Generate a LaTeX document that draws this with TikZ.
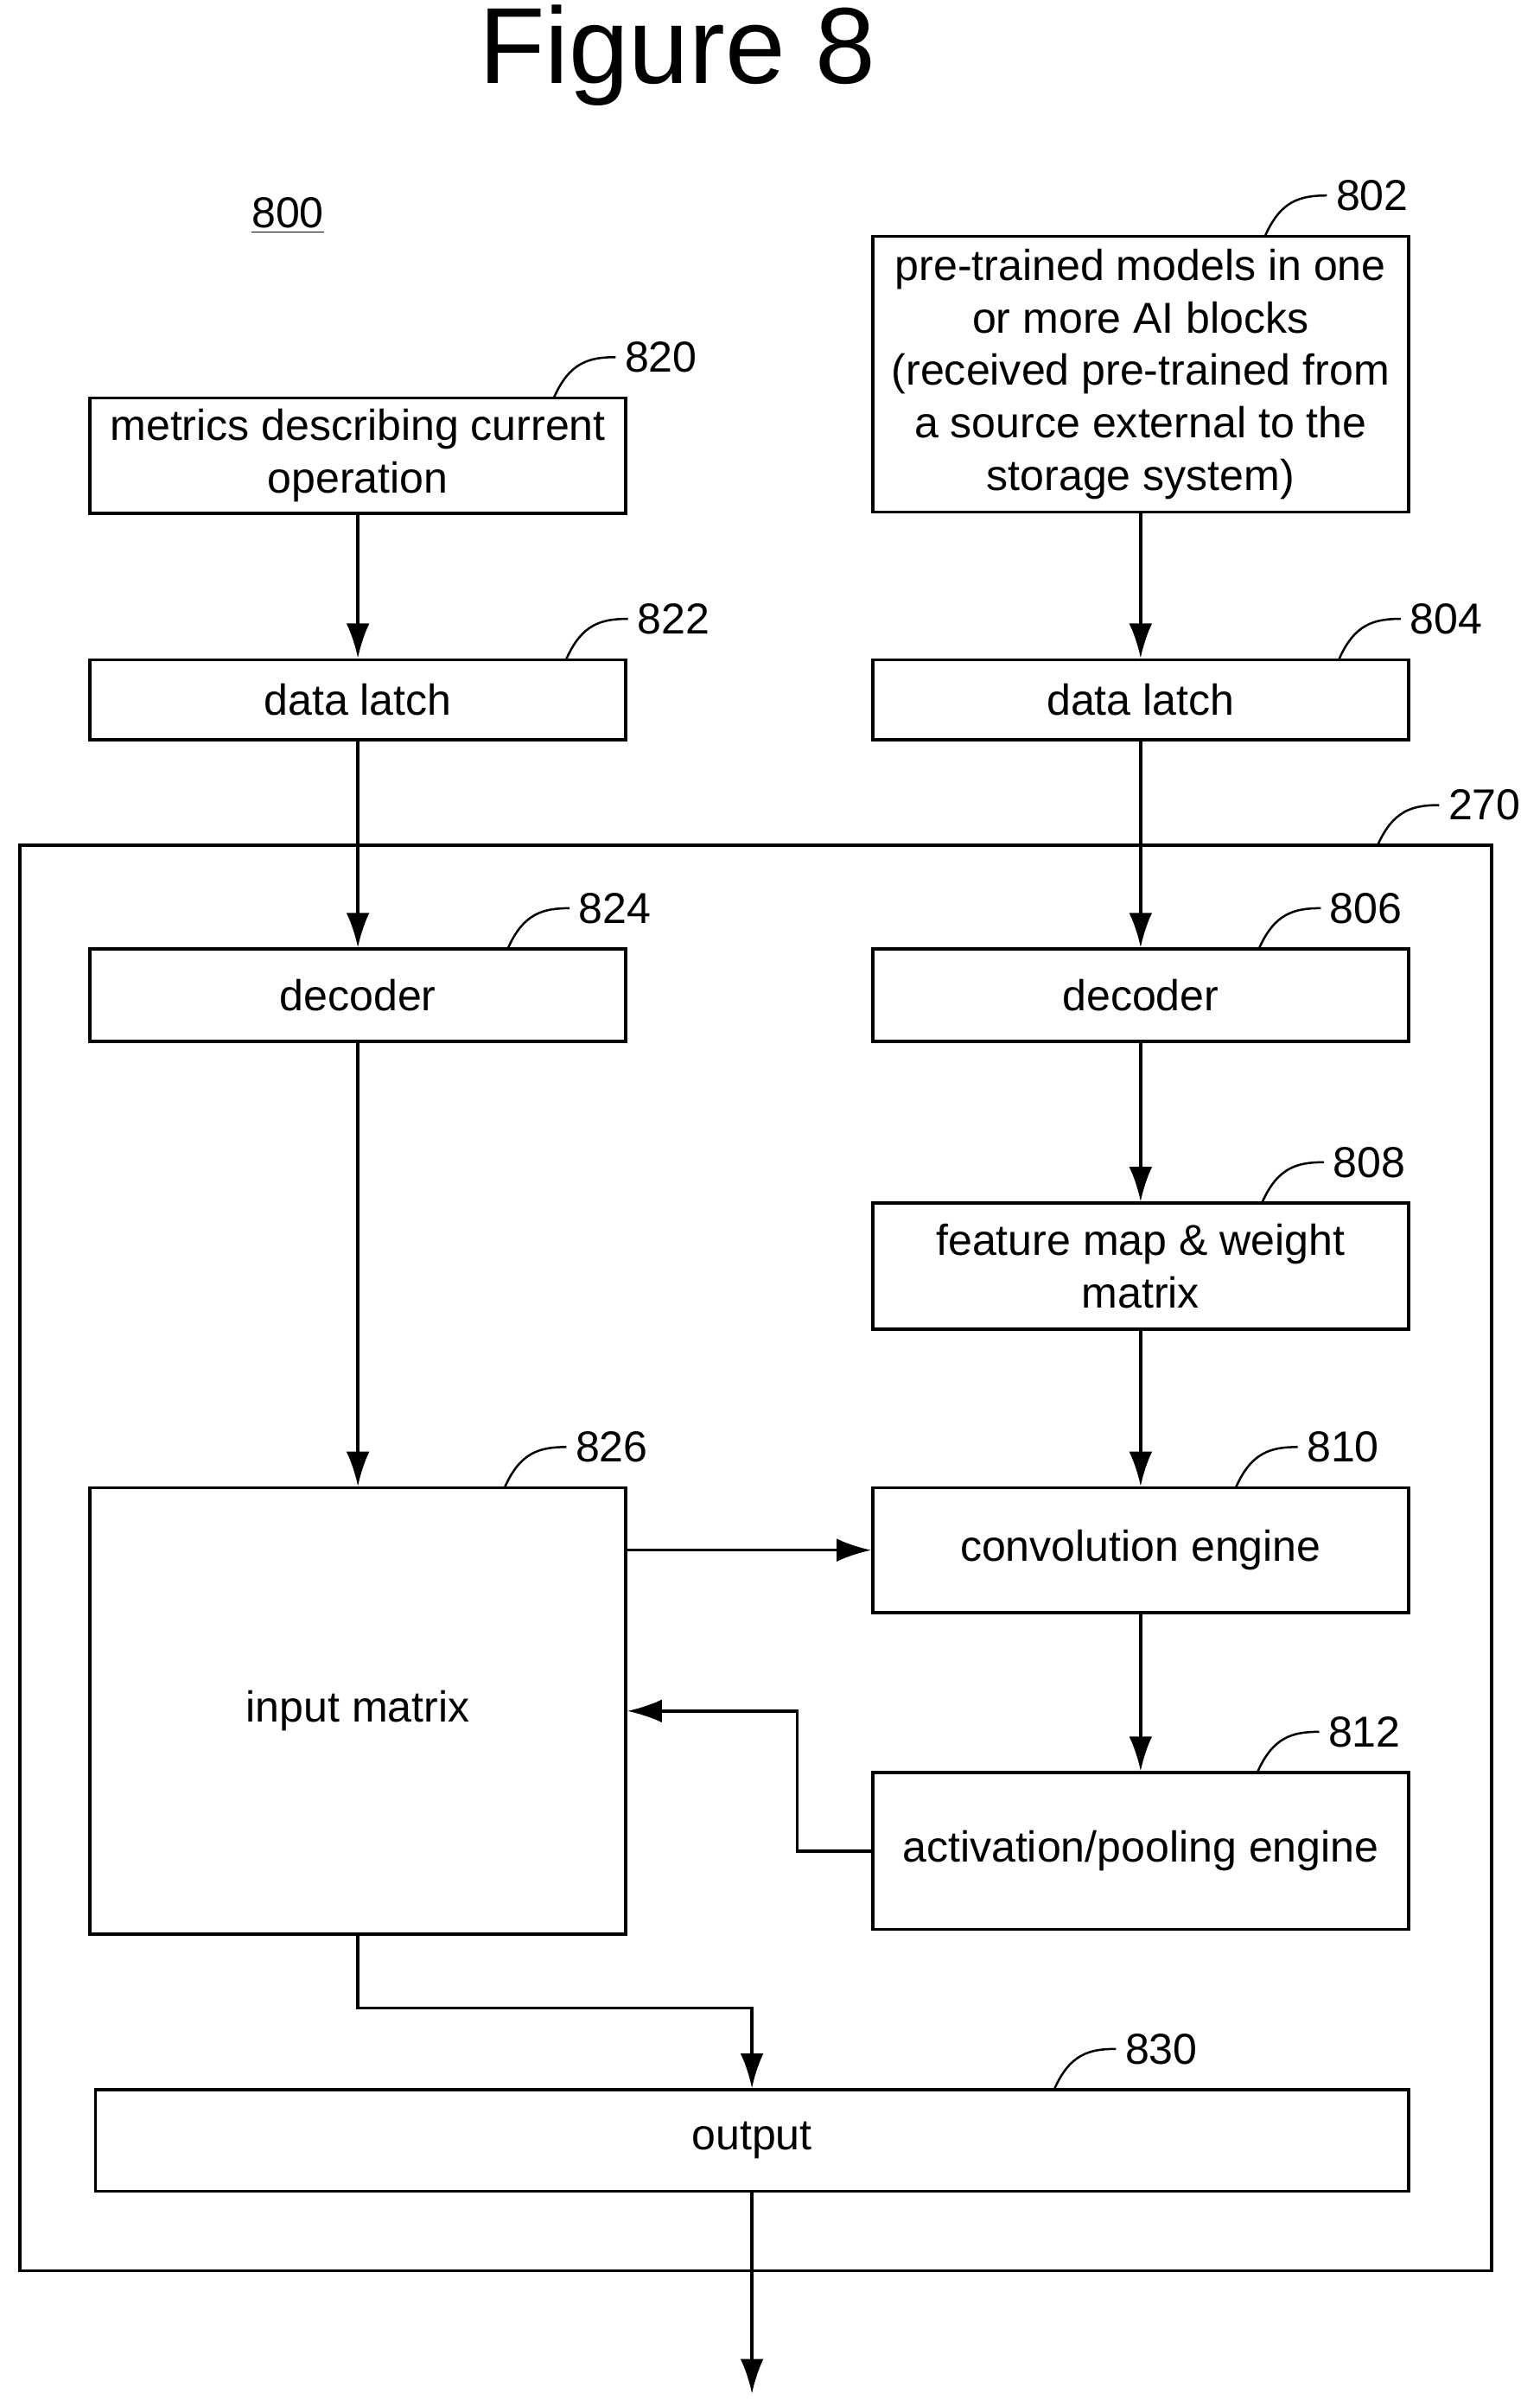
\documentclass[tikz,border=0pt]{standalone}
\usepackage{fontspec}
\setmainfont{Liberation Sans}
\usetikzlibrary{arrows.meta}
\newcommand{\lead}[2]{\draw[line width=0.8pt] (#1) .. controls +(0.2,0.45) and +(-0.35,0) .. ++(0.8,0.52) node[right,inner sep=3pt] {#2};}
\begin{document}
\begin{tikzpicture}[font=\fontsize{16}{19.4}\selectfont]
                \useasboundingbox (0,0) rectangle (20,-31.26);
                \node (title) at (8.8,-0.72) {\fontsize{40}{44}\selectfont Figure 8};
                \node (fig) at (3.74,-2.8) {\underline{800}};
                \draw[line width=1.1pt] (0.26,-10.98) rectangle (19.38,-29.5);
                \begin{scope}[every node/.style={line width=1.1pt, draw, rectangle, minimum width=6.96cm, align=center, inner sep=1pt}]
                        \node[minimum height=1.5cm] (metrics) at (4.65,-5.92) {metrics describing current\\operation};
                        \node[minimum height=1.04cm] (latchL) at (4.65,-9.09) {data latch};
                        \node[minimum height=1.2cm] (decL) at (4.65,-12.93) {decoder};
                        \node[minimum height=5.8cm] (input) at (4.65,-22.23) {input matrix};
                        \node[minimum height=3.58cm] (models) at (14.82,-4.86) {pre-trained models in one\\or more AI blocks\\(received pre-trained from\\a source external to the\\storage system)};
                        \node[minimum height=1.04cm] (latchR) at (14.82,-9.09) {data latch};
                        \node[minimum height=1.2cm] (decR) at (14.82,-12.93) {decoder};
                        \node[minimum height=1.64cm] (fmap) at (14.82,-16.45) {feature map \& weight\\matrix};
                        \node[minimum height=1.62cm] (conv) at (14.82,-20.14) {convolution engine};
                        \node[minimum height=2.04cm] (act) at (14.82,-24.05) {activation/pooling engine};
                        \node[minimum height=1.32cm, minimum width=17.06cm] (out) at (9.77,-27.81) {output};
                \end{scope}
                \coordinate (end) at (9.77,-31.1);
                % reference numerals
                \lead{7.2,-5.16}{820}
                \lead{7.36,-8.56}{822}
                \lead{6.6,-12.32}{824}
                \lead{6.56,-19.32}{826}
                \lead{16.44,-3.06}{802}
                \lead{17.4,-8.56}{804}
                \lead{16.36,-12.32}{806}
                \lead{16.4,-15.62}{808}
                \lead{16.06,-19.32}{810}
                \lead{16.34,-23.02}{812}
                \lead{13.7,-27.14}{830}
                \lead{17.9,-10.98}{270}
                \begin{scope}[every path/.style={line width=1.1pt, -{Latex[length=0.45cm,width=0.3cm]}}]
                        \draw (metrics) -- (latchL);
                        \draw (latchL) -- (decL);
                        \draw (decL) -- (input);
                        \draw (models) -- (latchR);
                        \draw (latchR) -- (decR);
                        \draw (decR) -- (fmap);
                        \draw (fmap) -- (conv);
                        \draw (conv) -- (act);
                        \draw (input.east |- conv) -- (conv);
                        \draw (act.west) -- ++(-0.96,0) |- (input.east);
                        \draw (input.south) -- ++(0,-0.94) -| (out.north);
                        \draw (out) -- (end);
                \end{scope}
\end{tikzpicture}
\end{document}
